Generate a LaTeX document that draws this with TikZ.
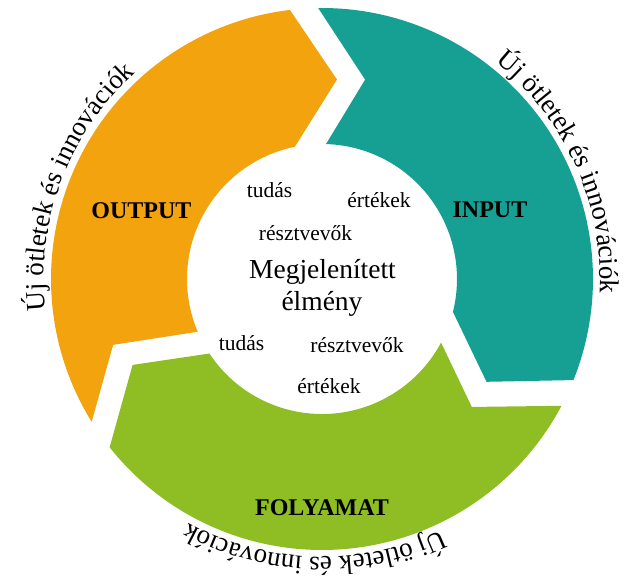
\documentclass[tikz,border=0pt]{standalone}
\usepackage{fontspec}
\setmainfont{Liberation Serif}
\usetikzlibrary{decorations.text}
\definecolor{arcorange}{RGB}{243,163,13}
\definecolor{arcteal}{RGB}{22,160,148}
\definecolor{arcgreen}{RGB}{142,190,36}
\begin{document}
\begin{tikzpicture}[x=1pt,y=1pt,
  stagelabel/.style={font=\fontsize{24}{26}\selectfont\bfseries, anchor=base, inner sep=0pt},
  centrelabel/.style={font=\fontsize{27.5}{32}\selectfont, anchor=base, inner sep=0pt},
  wordlabel/.style={font=\fontsize{21.5}{24}\selectfont, anchor=base, inner sep=0pt},
  ringtext/.style={decorate, decoration={text along path, text align=center,
      text={|\fontsize{27}{30}\selectfont|Új ötletek és innovációk}}}]
\useasboundingbox (-322pt,-308pt) rectangle (303pt,279pt);

% three block arcs of the cycle, running clockwise
\fill[arcorange] (211.8:271pt) arc[start angle=211.8, end angle=96.8, radius=271pt]
  -- (85.7:200pt) -- (101.6:135pt)
  arc[start angle=101.6, end angle=203, radius=135pt]
  -- (197.5:219pt) -- cycle;
\fill[arcteal] (90.8:271pt) arc[start angle=90.8, end angle=-21.9, radius=271pt]
  -- (-32:194pt) -- (-14.1:135pt)
  arc[start angle=-14.1, end angle=88.3, radius=135pt]
  -- (77.8:204pt) -- cycle;
\fill[arcgreen] (-27.9:271pt) arc[start angle=-27.9, end angle=-141.6, radius=271pt]
  -- (-155.6:208pt) -- (-146.5:135pt)
  arc[start angle=-146.5, end angle=-28.1, radius=135pt]
  -- (-40.5:197pt) -- cycle;

% stage names
\node[stagelabel] (output) at (-180.5,61) {OUTPUT};
\node[stagelabel] (input) at (168,62) {INPUT};
\node[stagelabel] (folyamat) at (0,-236) {FOLYAMAT};

% centre
\node[centrelabel] (centre1) at (0.5,1) {Megjelenített};
\node[centrelabel] (centre2) at (0,-31) {élmény};
\node[wordlabel] (tudas1) at (-52.5,82) {tudás};
\node[wordlabel] (ertek1) at (57,72) {értékek};
\node[wordlabel] (resz1) at (-16.5,39) {résztvevők};
\node[wordlabel] (tudas2) at (-80.5,-71) {tudás};
\node[wordlabel] (resz2) at (35,-73) {résztvevők};
\node[wordlabel] (ertek2) at (7,-114) {értékek};

% curved captions around the ring
\path[ringtext] (69.2:278pt) arc[start angle=69.2, end angle=-20.8, radius=278pt];
\path[ringtext] (204.3:278pt) arc[start angle=204.3, end angle=114.3, radius=278pt];
\path[ringtext] (-46.6:278pt) arc[start angle=-46.6, end angle=-136.6, radius=278pt];
\end{tikzpicture}
\end{document}
